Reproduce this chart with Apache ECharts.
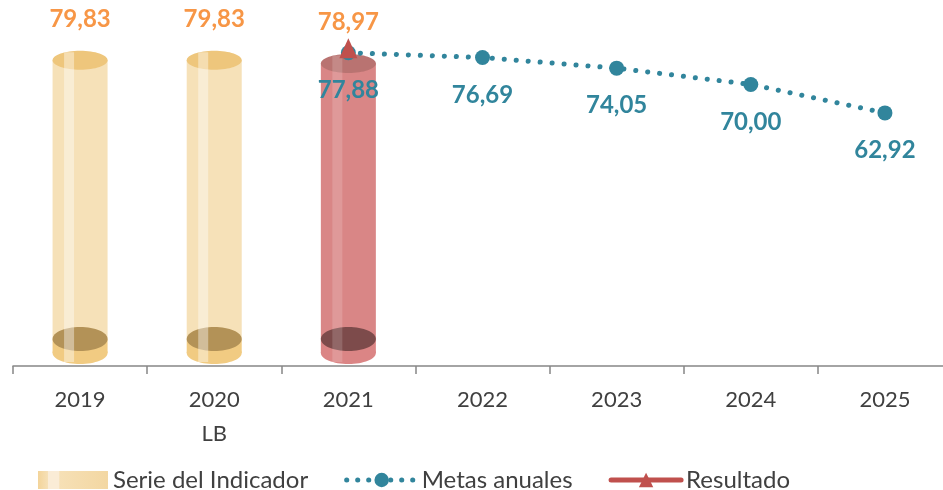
<!DOCTYPE html>
<html>
<head>
<meta charset="utf-8">
<script src="https://cdn.jsdelivr.net/npm/echarts@6/dist/echarts.min.js"></script>
<style>
html,body{margin:0;padding:0;background:#fff;}
#chart{width:943px;height:490px;}
</style>
</head>
<body>
<div id="chart"></div>
<script>
// ---- data ----
var categories = ['2019', '2020\nLB', '2021', '2022', '2023', '2024', '2025'];
var serieIndicador = [79.83, 79.83, 78.97];
var metasAnuales = [null, null, 77.88, 76.69, 74.05, 70.00, 62.92];
var resultado = [null, null, 78.97, null, null, null, null];

// ---- styles ----
var FONT = 'Lato, "Noto Sans", sans-serif';
var TEAL = '#31859C';
var RED = '#C0504D';
var ORANGE = '#F79646';
var palettes = {
  wheat: {body: '#f6e1b8', top: '#eec67c', floor: '#b39257', cap: '#f1cb82', strip: 'rgba(255,255,255,0.4)'},
  red: {body: '#d98686', top: '#b97371', floor: '#7d4b4b', cap: '#db8585', strip: 'rgba(255,255,255,0.16)'}
};

function fmt(v) { return Number(v).toFixed(2).replace('.', ','); }

var barData = serieIndicador.map(function (v, i) { return [i, v]; });

function renderCylinder(params, api) {
  var i = api.value(0), v = api.value(1);
  var top = api.coord([i, v]);
  var base = api.coord([i, 0]);
  var pal = (i === 2) ? palettes.red : palettes.wheat;
  var cx = top[0], rx = 27.5;
  var yT = top[1], yB = base[1];
  var floorY = yB - 27, capY = yB - 13;
  return {
    type: 'group',
    children: [
      {type: 'ellipse', shape: {cx: cx, cy: capY, rx: rx, ry: 11}, style: {fill: pal.cap}},
      {type: 'rect', shape: {x: cx - rx, y: floorY, width: rx * 2, height: capY - floorY}, style: {fill: pal.cap}},
      {type: 'rect', shape: {x: cx - rx, y: yT, width: rx * 2, height: floorY - yT}, style: {fill: pal.body}},
      {type: 'ellipse', shape: {cx: cx, cy: floorY, rx: rx, ry: 12}, style: {fill: pal.floor}},
      {type: 'ellipse', shape: {cx: cx, cy: yT, rx: rx, ry: 9.5}, style: {fill: pal.top}},
      {type: 'rect', shape: {x: cx - 16, y: yT - 8, width: 10, height: capY + 9 - (yT - 8)}, style: {fill: pal.strip}},
      {type: 'text', x: cx, y: yT - 41, style: {text: fmt(v), fill: ORANGE, font: 'bold 24px ' + FONT, align: 'center', verticalAlign: 'middle'}}
    ]
  };
}

var chart = echarts.init(document.getElementById('chart'), null, {renderer: 'canvas'});
chart.setOption({
  animation: false,
  backgroundColor: '#fff',
  grid: {left: 13, right: -9, top: 4, bottom: 124, containLabel: false, outerBoundsMode: 'none'},
  legend: {
    left: 33, top: 463,
    itemWidth: 70, itemHeight: 18, itemGap: 36,
    textStyle: {fontFamily: FONT, fontSize: 24, lineHeight: 24, color: '#404040'},
    data: [
      {name: 'Serie del Indicador', icon: 'rect', itemStyle: {color: new echarts.graphic.LinearGradient(0, 0, 1, 0, [
        {offset: 0, color: '#f3d49a'}, {offset: 0.14, color: '#f6e0b6'}, {offset: 0.15, color: '#faecd6'},
        {offset: 0.3, color: '#faecd6'}, {offset: 0.31, color: '#f6e0b6'}, {offset: 1, color: '#f3d7a2'}])}},
      {name: 'Metas anuales', lineStyle: {width: 5, type: [0.1, 10.9], cap: 'round', color: TEAL}},
      {name: 'Resultado', lineStyle: {width: 5, color: RED, cap: 'round'}}
    ]
  },
  xAxis: {
    type: 'category',
    data: categories,
    boundaryGap: true,
    axisLine: {lineStyle: {color: '#868686', width: 1.5}},
    axisTick: {show: true, length: 8, lineStyle: {color: '#868686', width: 1.5}},
    axisLabel: {fontFamily: FONT, fontSize: 22, color: '#404040', lineHeight: 34, margin: 17}
  },
  yAxis: [
    {type: 'value', min: 0, max: 94.5, show: false},
    {type: 'value', min: 0, max: 90, show: false}
  ],
  series: [
    {
      name: 'Serie del Indicador',
      type: 'custom',
      yAxisIndex: 0,
      data: barData,
      renderItem: renderCylinder,
      clip: false,
      itemStyle: {color: '#f6e1b8'},
      z: 1
    },
    {
      name: 'Metas anuales',
      type: 'line',
      yAxisIndex: 1,
      data: metasAnuales,
      symbol: 'circle',
      symbolSize: 15,
      itemStyle: {color: TEAL},
      lineStyle: {color: TEAL, width: 5, type: [0.1, 11.9], cap: 'round'},
      label: {show: true, position: 'bottom', distance: 18, formatter: function (p) { return fmt(p.value); },
        fontFamily: FONT, fontSize: 24, fontWeight: 'bold', color: TEAL},
      z: 3
    },
    {
      name: 'Resultado',
      type: 'line',
      yAxisIndex: 1,
      data: resultado,
      symbol: 'triangle',
      symbolSize: [18, 20],
      itemStyle: {color: RED},
      lineStyle: {color: RED, width: 4},
      z: 4
    }
  ]
});
</script>
</body>
</html>
